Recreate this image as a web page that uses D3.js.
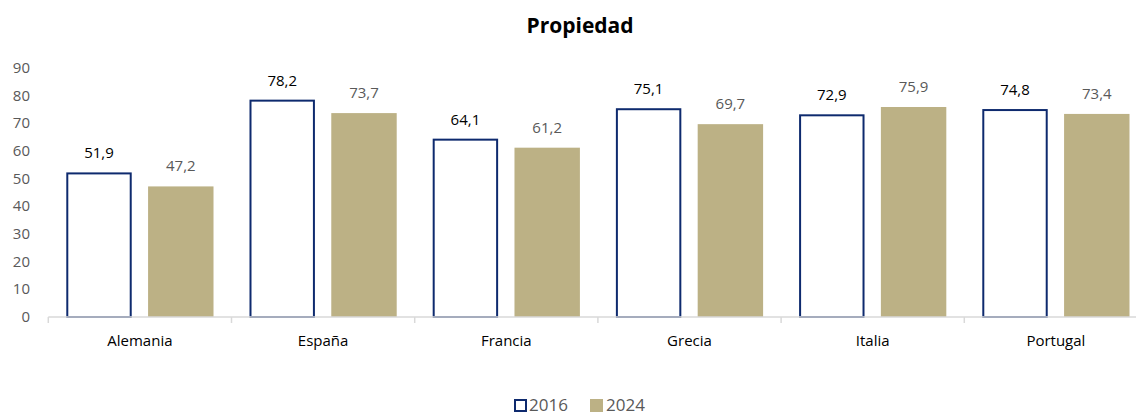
<!DOCTYPE html>
<html>
<head>
<meta charset="utf-8">
<script src="https://cdn.jsdelivr.net/npm/d3@7"></script>
<style>
  body { margin: 0; background: #fff; }
  text { font-family: "Open Sans", "Noto Sans", sans-serif; }
</style>
</head>
<body>
<div id="chart"></div>
<script>
const countries = ['Alemania', 'España', 'Francia', 'Grecia', 'Italia', 'Portugal'];
const years = ['2016', '2024'];
const values2016 = [51.9, 78.2, 64.1, 75.1, 72.9, 74.8];
const values2024 = [47.2, 73.7, 61.2, 69.7, 75.9, 73.4];
const yTicks = [0, 10, 20, 30, 40, 50, 60, 70, 80, 90];

const W = 1136, H = 416;
const navy = '#0e2a6e', tan = '#bcb185';

const svg = d3.select('#chart').append('svg')
    .attr('width', W)
    .attr('height', H);

// x scale runs past the right edge like the original crop
const x = d3.scaleBand().domain(countries).range([48.3, 1147.5]).paddingInner(0).paddingOuter(0);
const xInner = d3.scaleBand().domain(years).range([0, x.bandwidth()]).paddingInner(0.2).paddingOuter(0.22);
const y = d3.scaleLinear().domain([0, 90]).range([317, 68]);

// title
svg.append('text')
    .attr('x', 580).attr('y', 33)
    .attr('text-anchor', 'middle')
    .style('font-size', '21px').style('font-weight', 'bold')
    .text('Propiedad');

// y labels
svg.selectAll('.ylab')
    .data(yTicks)
    .enter()
    .append('text')
    .attr('class', 'ylab')
    .attr('x', 30)
    .attr('y', d => y(d) + 5)
    .attr('text-anchor', 'end')
    .attr('fill', '#595959')
    .style('font-size', '15px')
    .text(d => d);

const rows = countries.map((c, i) => ({country: c, v: [values2016[i], values2024[i]]}));

const groups = svg.selectAll('.grp')
    .data(rows)
    .enter()
    .append('g')
    .attr('transform', d => `translate(${x(d.country)},0)`);

// 2016 outlined bars
groups.append('rect')
    .attr('x', xInner('2016') + 1)
    .attr('y', d => y(d.v[0]))
    .attr('width', xInner.bandwidth() - 2)
    .attr('height', d => y(0) - y(d.v[0]))
    .attr('fill', '#fff')
    .attr('stroke', navy)
    .attr('stroke-width', 2);

// 2024 filled bars
groups.append('rect')
    .attr('x', xInner('2024'))
    .attr('y', d => y(d.v[1]))
    .attr('width', xInner.bandwidth())
    .attr('height', d => y(0) - y(d.v[1]))
    .attr('fill', tan);

const fmt = v => v.toFixed(1).replace('.', ',');

groups.append('text')
    .attr('x', xInner('2016') + xInner.bandwidth() / 2)
    .attr('y', d => y(d.v[0]) - 15)
    .attr('text-anchor', 'middle')
    .attr('fill', '#000')
    .style('font-size', '15px')
    .text(d => fmt(d.v[0]));

groups.append('text')
    .attr('x', xInner('2024') + xInner.bandwidth() / 2)
    .attr('y', d => y(d.v[1]) - 15)
    .attr('text-anchor', 'middle')
    .attr('fill', '#595959')
    .style('font-size', '15px')
    .text(d => fmt(d.v[1]));

// x axis
const axisG = svg.append('g').attr('transform', `translate(0,${y(0)})`);
axisG.append('line')
    .attr('x1', 48.3).attr('x2', 1147.5)
    .attr('stroke', '#d9d9d9').attr('stroke-width', 1.5);
axisG.selectAll('.tick')
    .data(countries.concat(['end']))
    .enter()
    .append('line')
    .attr('x1', (d, i) => 48.3 + i * x.step())
    .attr('x2', (d, i) => 48.3 + i * x.step())
    .attr('y1', 0).attr('y2', 6)
    .attr('stroke', '#d9d9d9').attr('stroke-width', 1.5);

svg.selectAll('.xlab')
    .data(countries)
    .enter()
    .append('text')
    .attr('x', d => x(d) + x.bandwidth() / 2)
    .attr('y', 346)
    .attr('text-anchor', 'middle')
    .attr('fill', '#000')
    .style('font-size', '15px')
    .text(d => d);

// legend
const legend = svg.append('g');
legend.append('rect')
    .attr('x', 515).attr('y', 400).attr('width', 11).attr('height', 11)
    .attr('fill', '#fff').attr('stroke', navy).attr('stroke-width', 2);
legend.append('text')
    .attr('x', 529).attr('y', 411)
    .attr('fill', '#595959').style('font-size', '17px')
    .text('2016');
legend.append('rect')
    .attr('x', 590).attr('y', 399).attr('width', 13).attr('height', 13)
    .attr('fill', tan);
legend.append('text')
    .attr('x', 606).attr('y', 411)
    .attr('fill', '#595959').style('font-size', '17px')
    .text('2024');
</script>
</body>
</html>
